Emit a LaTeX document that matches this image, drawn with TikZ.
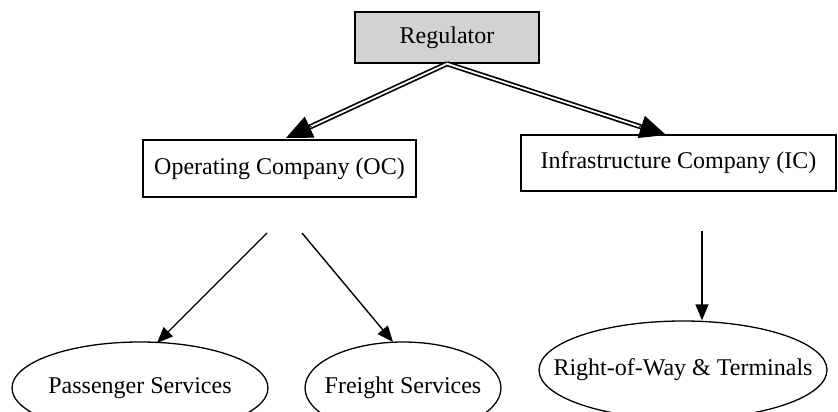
\documentclass[tikz,border=0pt]{standalone}
\usepackage{fontspec}
\setmainfont{Liberation Serif}
\usetikzlibrary{arrows.meta,shapes.geometric,calc}
\begin{document}
\begin{tikzpicture}[x=1pt,y=-1pt,
  txt/.style={font=\fontsize{24}{28}\selectfont},
  box/.style={draw,line width=1.4pt,rectangle,inner sep=0pt,txt},
  oval/.style={draw,line width=1.3pt,ellipse,inner sep=0pt},
  dbl/.style={draw,double,double distance=1.8pt,line width=1.7pt},
  bighead/.style={-{Triangle[length=26pt,width=23pt]},line width=1pt},
  arr/.style={-{Triangle[length=16pt,width=13pt]},line width=1.4pt}]
\useasboundingbox (0,0) rectangle (838,412);
\node[box,fill=gray!35,minimum width=184pt,minimum height=51pt] (reg) at (447,37.5) {Regulator};
\node[box,minimum width=273pt,minimum height=57pt] (oc) at (279.5,168.5) {Operating Company (OC)};
\node[box,minimum width=315pt,minimum height=56pt] (ic) at (678.5,163) {Infrastructure Company (IC)};
\node[oval,minimum width=256pt,minimum height=92pt,label={[txt]center:Passenger Services}] (ps) at (140,388) {};
\node[oval,minimum width=196pt,minimum height=92pt,label={[txt]center:Freight Services}] (fs) at (403,388) {};
\node[oval,minimum width=288pt,minimum height=98pt,label={[txt]center:Right-of-Way \& Terminals}] (rw) at (683,370) {};
% double arrows from Regulator
\coordinate (apex) at (reg.south);
\coordinate (octip) at (286,138);
\coordinate (ictip) at (666,135);
\draw[dbl] (apex) -- ($(octip)!24pt!(apex)$);
\draw[bighead] ($(octip)!28pt!(apex)$) -- (octip);
\draw[dbl] (apex) -- ($(ictip)!24pt!(apex)$);
\draw[bighead] ($(ictip)!28pt!(apex)$) -- (ictip);
% single arrows
\coordinate (oca) at (267,233);
\coordinate (ocb) at (302,233);
\coordinate (pst) at (157,343);
\coordinate (fst) at (393,342);
\coordinate (icd) at (702,231);
\draw[arr] (oca) -- (pst);
\draw[arr] (ocb) -- (fst);
\draw[arr] (icd) -- (icd |- rw.north);
\end{tikzpicture}
\end{document}
